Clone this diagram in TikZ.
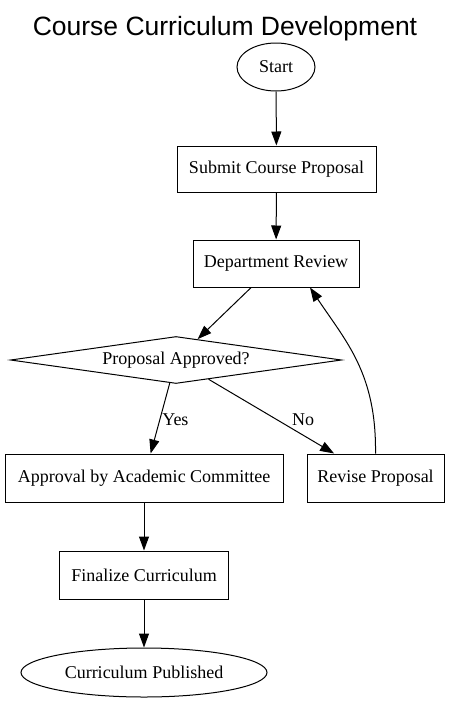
\documentclass[tikz,border=0pt]{standalone}
\usepackage{fontspec}
\setmainfont{Liberation Serif}
\newfontfamily\titlefont{Liberation Sans}
\usetikzlibrary{shapes.geometric,arrows.meta,calc}
\begin{document}
\begin{tikzpicture}[x=1pt,y=-1pt,
  every node/.style={font=\fontsize{18}{21}\selectfont},
  box/.style={draw,line width=1pt,rectangle,inner sep=0pt},
  term/.style={draw,line width=1pt,ellipse,inner sep=0pt},
  decision/.style={draw,line width=1pt,diamond,aspect=7,inner sep=0pt},
  arr/.style={line width=1pt,-{Triangle[length=14pt,width=10pt]}},
  lbl/.style={inner sep=2pt}]
\useasboundingbox[fill=white] (0,0) rectangle (451,702);
\node[font=\titlefont\fontsize{26.5}{30}\selectfont,anchor=base] (title) at (225,35) {Course Curriculum Development};
\node[term,minimum width=78pt,minimum height=48pt] (start) at (276,67) {Start};
\node[box,minimum width=199pt,minimum height=46pt] (submit) at (276.5,169) {Submit Course Proposal};
\node[box,minimum width=166pt,minimum height=47pt] (dept) at (276,263.5) {Department Review};
\node[decision,minimum width=331pt,minimum height=47pt] (dec) at (176,360) {Proposal Approved?};
\node[box,minimum width=278pt,minimum height=48pt] (appr) at (144,478) {Approval by Academic Committee};
\node[box,minimum width=137pt,minimum height=48pt] (rev) at (375.5,478) {Revise Proposal};
\node[box,minimum width=169pt,minimum height=48pt] (fin) at (144,575) {Finalize Curriculum};
\node[term,minimum width=246pt,minimum height=49pt] (pub) at (144,672.5) {Curriculum Published};
\draw[arr] (start) -- (submit);
\draw[arr] (submit) -- (dept);
\draw[arr] (dept) -- (dec);
\draw[arr] (dec) -- node[pos=0.52,anchor=west,lbl] {Yes} (appr);
\draw[arr] (dec) -- node[pos=0.55,right=12pt,lbl] {No} (rev);
\draw[arr] (rev.north) .. controls ($(rev.north)+(1,-80)$) and ($(dept.south)+(70,54)$) .. ($(dept.south)+(34,0)$);
\draw[arr] (appr) -- (fin);
\draw[arr] (fin) -- (pub);
\end{tikzpicture}
\end{document}
